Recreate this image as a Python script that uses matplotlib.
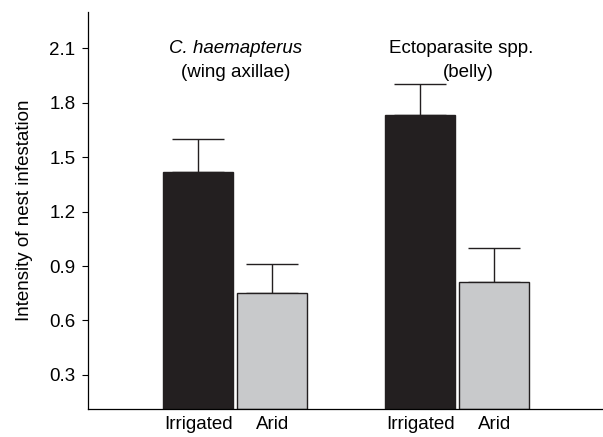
import matplotlib
matplotlib.use("Agg")
import matplotlib.pyplot as plt

plt.rcParams['font.family'] = ['Liberation Sans', 'DejaVu Sans']

categories = ["Irrigated", "Arid", "Irrigated", "Arid"]
positions = [0, 1, 3, 4]
means = [1.42, 0.75, 1.73, 0.81]
upper_err = [0.18, 0.16, 0.17, 0.19]
colors = ["#231f20", "#c8c9cb", "#231f20", "#c8c9cb"]
yticks = [0.3, 0.6, 0.9, 1.2, 1.5, 1.8, 2.1]
group_titles = [("C. haemapterus", "(wing axillae)"), ("Ectoparasite spp.", "(belly)")]

FS = 13.5
fig = plt.figure(figsize=(6.03, 4.37), dpi=100)
ax = fig.add_axes([0.146, 0.063, 0.86, 0.91])

ybottom = 0.11
heights = [m - ybottom for m in means]
ax.bar(positions, heights, bottom=ybottom, width=0.94, color=colors,
       edgecolor="#231f20", linewidth=1.0, zorder=2)
ax.errorbar(positions, means, yerr=[[0]*4, upper_err], fmt='none',
            ecolor="#231f20", elinewidth=1.0, capsize=19, capthick=1.0, zorder=1)

ax.set_ylim(ybottom, 2.3)
ax.set_xlim(-1.49, 5.52)
ax.set_yticks(yticks)
ax.set_yticklabels([f"{t:.1f}" for t in yticks], fontsize=FS)
ax.set_xticks(positions)
ax.set_xticklabels(categories, fontsize=FS)
ax.tick_params(axis='x', length=0, pad=5)
ax.tick_params(axis='y', length=4, width=0.8, direction='out', pad=5)
ax.spines['top'].set_visible(False)
ax.spines['right'].set_visible(False)
for s in ('left', 'bottom'):
    ax.spines[s].set_linewidth(0.9)
ax.set_ylabel("Intensity of nest infestation", fontsize=FS, labelpad=12)

ax.text(0.5, 2.1, group_titles[0][0], ha='center', va='center', fontsize=FS, style='italic')
ax.text(0.5, 1.965, group_titles[0][1], ha='center', va='center', fontsize=FS)
ax.text(3.55, 2.1, group_titles[1][0], ha='center', va='center', fontsize=FS)
ax.text(3.65, 1.965, group_titles[1][1], ha='center', va='center', fontsize=FS)

fig.savefig("out.png", dpi=100)
